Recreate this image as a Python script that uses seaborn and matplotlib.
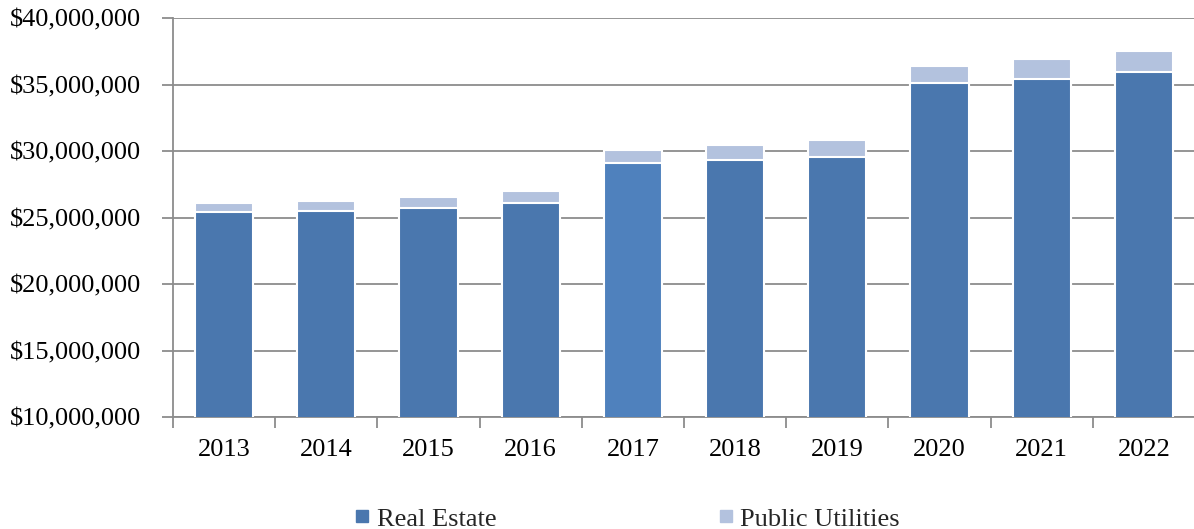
import matplotlib
matplotlib.use("Agg")
import matplotlib.pyplot as plt
import seaborn as sns
import numpy as np
import pandas as pd
from matplotlib.lines import Line2D
from matplotlib.ticker import FuncFormatter, FixedLocator

years = ["2013", "2014", "2015", "2016", "2017", "2018", "2019", "2020", "2021", "2022"]
real_estate = [25.40, 25.53, 25.74, 26.11, 29.10, 29.33, 29.60, 35.13, 35.45, 35.98]  # millions
public_utilities = [0.70, 0.73, 0.80, 0.86, 1.00, 1.13, 1.24, 1.30, 1.48, 1.58]        # millions
series_names = ["Real Estate", "Public Utilities"]

RE_COLOR = "#4A77AE"
RE_2017 = "#4F81BD"
PU_COLOR = "#B3C2DE"

sns.set_theme(style="white")
plt.rcParams["font.family"] = ["Liberation Serif", "DejaVu Serif"]

df = pd.DataFrame({
    "year": years,
    "re": np.array(real_estate) * 1e6,
    "total": (np.array(real_estate) + np.array(public_utilities)) * 1e6,
})

fig = plt.figure(figsize=(11.94, 5.29), dpi=100)
ax = fig.add_axes([0.1449, 0.2117, 0.856, 0.7537])

sns.barplot(data=df, x="year", y="total", color=PU_COLOR, width=0.57, saturation=1,
            edgecolor="white", linewidth=1.5, ax=ax, zorder=3)
re_palette = [RE_2017 if y == "2017" else RE_COLOR for y in years]
sns.barplot(data=df, x="year", y="re", hue="year", palette=re_palette, legend=False,
            saturation=1, width=0.57, edgecolor="white", linewidth=1.5, ax=ax, zorder=4)

ax.set_ylim(10e6, 40e6)
ax.set_xlim(-0.5, len(years) - 0.5)
ax.set_yticks(np.arange(10e6, 40e6 + 1, 5e6))
ax.yaxis.set_major_formatter(FuncFormatter(lambda v, p: f"${v:,.0f}"))
ax.grid(axis="y", color="#8c8c8c", linewidth=1.3, zorder=0)
ax.set_axisbelow(True)
ax.set_xlabel("")
ax.set_ylabel("")

for s in ["top", "right"]:
    ax.spines[s].set_visible(False)
for s in ["left", "bottom"]:
    ax.spines[s].set_color("#8c8c8c")
    ax.spines[s].set_linewidth(1.3)

ax.tick_params(axis="y", which="major", direction="out", length=8, width=1.3,
               color="#8c8c8c", labelsize=19, labelcolor="black", pad=15, left=True)
ax.tick_params(axis="x", which="major", length=0, labelsize=19, labelcolor="black", pad=16)
ax.xaxis.set_minor_locator(FixedLocator(np.arange(-0.5, len(years), 1.0)))
ax.tick_params(axis="x", which="minor", direction="out", length=8, width=1.3,
               color="#8c8c8c", bottom=True)

handles = [
    Line2D([], [], marker="s", linestyle="none", markersize=9,
           markerfacecolor=RE_COLOR, markeredgecolor=RE_COLOR),
    Line2D([], [], marker="s", linestyle="none", markersize=9,
           markerfacecolor=PU_COLOR, markeredgecolor=PU_COLOR),
]
fig.legend(handles, series_names, loc="center", bbox_to_anchor=(0.524, 0.019),
           ncol=2, frameon=False, fontsize=19, handletextpad=0.15,
           columnspacing=8.3, handlelength=0.8)

fig.savefig("out.png", dpi=100)
